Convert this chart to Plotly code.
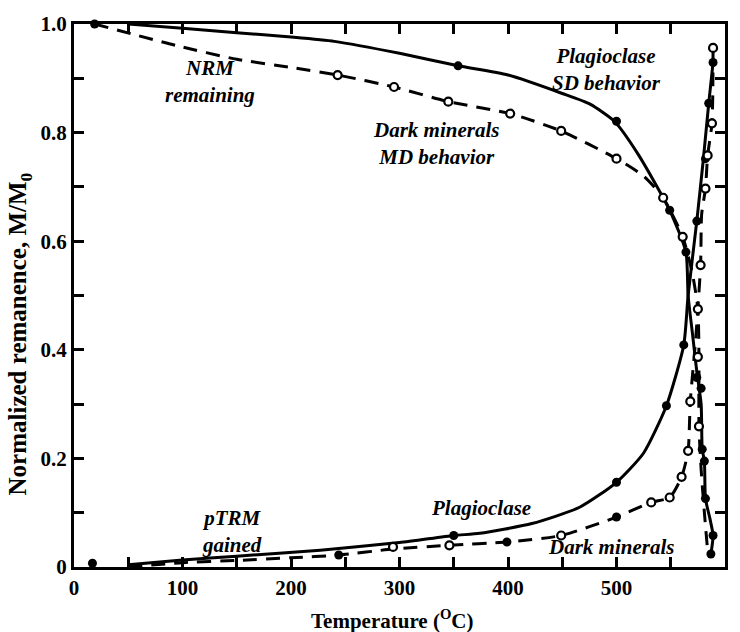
import plotly.graph_objects as go

# ---- data ----
# NRM remaining, plagioclase (solid, SD behaviour) - curve path
nrm_plag_T = [50, 100, 150, 200, 240, 300, 354, 400, 450, 476, 498, 520, 549, 564, 566, 570, 574, 578, 579, 581, 582, 586, 589, 587]
nrm_plag_M = [1.0, 0.992, 0.984, 0.976, 0.968, 0.946, 0.923, 0.906, 0.872, 0.852, 0.821, 0.76, 0.657, 0.58, 0.50, 0.43, 0.36, 0.30, 0.217, 0.195, 0.126, 0.09, 0.058, 0.024]
# NRM remaining, dark minerals (dashed, MD behaviour) - curve path
nrm_dark_T = [19, 95, 150, 200, 243, 295, 345, 402, 449, 500, 525, 543, 561, 570, 575, 576, 576, 578, 581, 584]
nrm_dark_M = [1.0, 0.96, 0.935, 0.92, 0.906, 0.884, 0.857, 0.835, 0.803, 0.752, 0.72, 0.68, 0.608, 0.54, 0.475, 0.387, 0.259, 0.18, 0.10, 0.03]
# pTRM gained, plagioclase (solid) - curve path
ptrm_plag_T = [50, 100, 150, 227, 300, 350, 374, 422, 466, 500, 525, 546, 562, 566, 574, 580, 585, 589]
ptrm_plag_M = [0.004, 0.013, 0.020, 0.031, 0.045, 0.058, 0.062, 0.080, 0.110, 0.156, 0.21, 0.297, 0.409, 0.50, 0.637, 0.75, 0.854, 0.929]
# pTRM gained, dark minerals (dashed) - curve path
ptrm_dark_T = [50, 100, 150, 200, 244, 294, 346, 399, 449, 500, 532, 549, 560, 566, 568, 573, 577.5, 578.5, 582, 584, 588, 589]
ptrm_dark_M = [0.0, 0.008, 0.012, 0.017, 0.022, 0.033, 0.040, 0.046, 0.058, 0.092, 0.119, 0.128, 0.166, 0.214, 0.305, 0.42, 0.556, 0.65, 0.697, 0.758, 0.817, 0.956]

# measured points
filled_T = [19, 17, 354, 500, 549, 564, 574, 578, 579, 581, 582, 589, 587,
            350, 500, 546, 562, 574, 585, 589, 582, 244, 399, 500]
filled_M = [1.0, 0.007, 0.923, 0.821, 0.657, 0.58, 0.349, 0.329, 0.217, 0.195, 0.126, 0.058, 0.024,
            0.058, 0.156, 0.297, 0.409, 0.637, 0.854, 0.929, 0.752, 0.022, 0.046, 0.092]
open_T = [243, 295, 345, 402, 449, 500, 543, 561, 575, 576,
          294, 346, 449, 532, 549, 560, 566, 568, 575, 577.5, 582, 584, 588, 589]
open_M = [0.906, 0.884, 0.857, 0.835, 0.803, 0.752, 0.68, 0.608, 0.387, 0.259,
          0.037, 0.040, 0.058, 0.119, 0.128, 0.166, 0.214, 0.305, 0.475, 0.556, 0.697, 0.758, 0.817, 0.956]

x_ticks = [0, 100, 200, 300, 400, 500, 600]
x_labels = ["0", "100", "200", "300", "400", "500", "600"]
y_ticks = [0, 0.2, 0.4, 0.6, 0.8, 1.0]
y_labels = ["0", "0.2", "0.4", "0.6", "0.8", "1.0"]

labels = [
    ("NRM<br>remaining", 125, 0.894),
    ("Dark minerals<br>MD behavior", 334, 0.780),
    ("Plagioclase<br>SD behavior", 491, 0.916),
    ("pTRM<br>gained", 146, 0.066),
    ("Plagioclase", 375, 0.108),
    ("Dark minerals", 495, 0.036),
]

SERIF = "Liberation Serif"
fig = go.Figure()

def add_line(T, M, dash):
    fig.add_trace(go.Scatter(x=T, y=M, mode="lines", line_shape="spline",
                             line=dict(color="black", width=3, dash=dash, smoothing=0.6),
                             hoverinfo="skip", showlegend=False, cliponaxis=False))

add_line(nrm_plag_T, nrm_plag_M, "solid")
add_line(nrm_dark_T, nrm_dark_M, "14px,9px")
add_line(ptrm_plag_T, ptrm_plag_M, "solid")
add_line(ptrm_dark_T, ptrm_dark_M, "14px,9px")

fig.add_trace(go.Scatter(x=filled_T, y=filled_M, mode="markers",
                         marker=dict(color="black", size=9, line=dict(width=0)),
                         showlegend=False, cliponaxis=False))
fig.add_trace(go.Scatter(x=open_T, y=open_M, mode="markers",
                         marker=dict(color="white", size=8, line=dict(color="black", width=2.2)),
                         showlegend=False, cliponaxis=False))

for txt, x, y in labels:
    fig.add_annotation(x=x, y=y, text=txt, showarrow=False, xref="x", yref="y",
                       font=dict(family=SERIF, size=21, color="black", weight="bold", style="italic"),
                       align="center")

fig.add_annotation(x=-0.083, y=0.43, xref="paper", yref="paper", textangle=-90,
                   xanchor="center", yanchor="middle",
                   text="Normalized remanence, M/M<sub>0</sub>", showarrow=False,
                   font=dict(family=SERIF, size=25, color="black", weight="bold"))
fig.add_annotation(x=0.49, y=-0.097, xref="paper", yref="paper", yanchor="middle",
                   text="Temperature (<sup>O</sup>C)", showarrow=False,
                   font=dict(family=SERIF, size=21, color="black", weight="bold"))

axis_common = dict(showline=True, linewidth=3, linecolor="black", mirror="allticks",
                   ticks="inside", ticklen=10, tickwidth=3, tickcolor="black",
                   showgrid=False, zeroline=False,
                   tickfont=dict(family=SERIF, size=21, color="black", weight="bold"))

fig.update_xaxes(range=[0, 600], tickvals=x_ticks, ticktext=x_labels,
                 minor=dict(dtick=50, tick0=0, ticks="inside", ticklen=10, tickwidth=3, tickcolor="black"),
                 **axis_common)
fig.update_yaxes(range=[0, 1.0], tickvals=y_ticks, ticktext=y_labels,
                 minor=dict(dtick=0.1, tick0=0, ticks="inside", ticklen=10, tickwidth=3, tickcolor="black"),
                 **axis_common)

fig.update_layout(width=740, height=632, margin=dict(l=74, r=15, t=19, b=65),
                  plot_bgcolor="white", paper_bgcolor="white")

fig.write_html("out.html")
